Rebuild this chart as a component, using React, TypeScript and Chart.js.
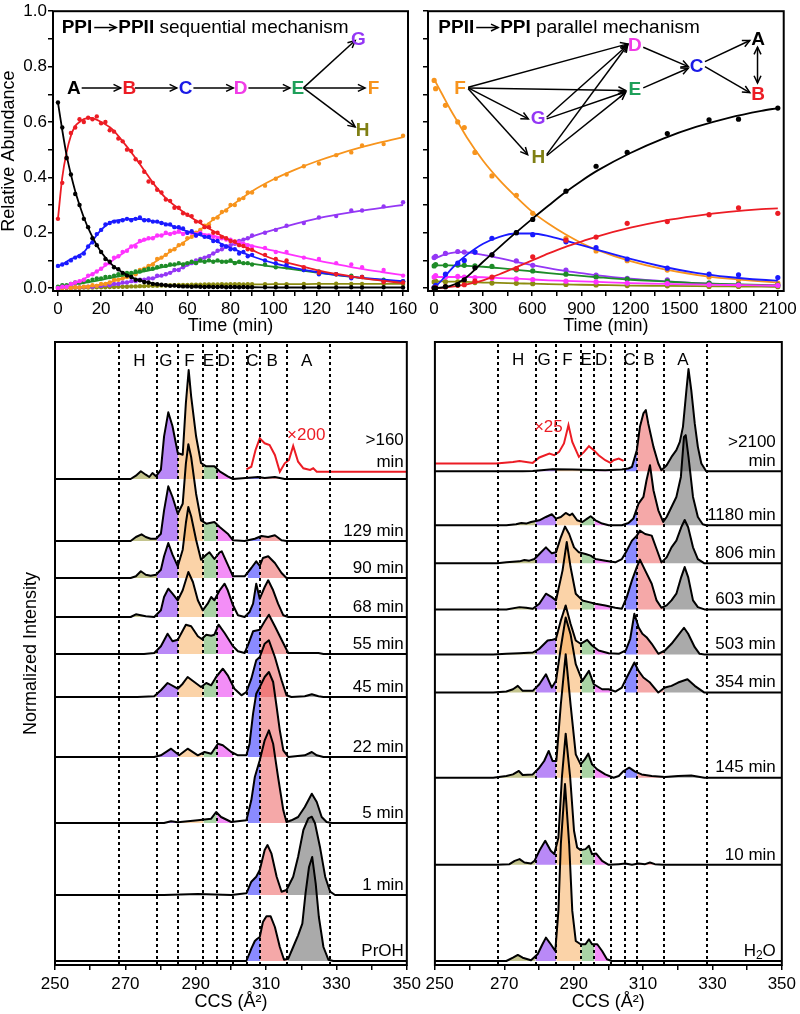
import React, { useEffect, useRef } from "react";
import { Chart, registerables } from "chart.js";

Chart.register(...registerables);

const FONT = "'Liberation Sans', Arial, Helvetica, sans-serif";
Chart.defaults.font.family = FONT;
Chart.defaults.color = "#000";

/* ===================== colours ===================== */
const speciesKeys = ["A", "B", "C", "D", "E", "F", "G", "H"];
const speciesColors = ["#000000", "#ec1c24", "#1a1aff", "#ff33ff", "#1e8c28", "#f7941d", "#9437f5", "#8c8c10"];
const letterColors = ["#000000", "#ec1c24", "#1a1ae6", "#f03ce6", "#1fa05a", "#f7941d", "#9437f5", "#7f7f14"];

/* ===================== top-left: PPI -> PPII (sequential) ===================== */
const abundanceTicks = [0, 0.1, 0.2, 0.3, 0.4, 0.5, 0.6, 0.7, 0.8, 0.9, 1.0];
const seqTimeTicks = [0, 10, 20, 30, 40, 50, 60, 70, 80, 90, 100, 110, 120, 130, 140, 150, 160];
const seqPointTimes = [0, 2, 4, 6, 8, 10, 12, 14, 16, 18, 20, 22, 24, 26, 28, 30, 32, 34, 36, 38, 40, 42, 44, 46, 48, 50, 52, 54, 56, 58, 60, 62, 64, 66, 68, 70, 72, 74, 76, 78, 80, 82, 84, 86, 88, 90, 96, 101, 106, 114, 121, 129, 136, 141, 151, 160];
const seqPtsA = [0.67, 0.58, 0.47, 0.41, 0.34, 0.30, 0.25, 0.22, 0.18, 0.155, 0.13, 0.105, 0.095, 0.075, 0.068, 0.055, 0.045, 0.04, 0.03, 0.028, 0.022, 0.02, 0.015, 0.014, 0.012, 0.01, 0.008, 0.009, 0.007, 0.006, 0.006, 0.005, 0.006, 0.005, 0.004, 0.005, 0.004, 0.004, 0.005, 0.003, 0.004, 0.004, 0.003, 0.004, 0.003, 0.003, 0.003, 0.003, 0.004, 0.003, 0.003, 0.002, 0.003, 0.002, 0.003, 0.002];
const seqPtsB = [0.25, 0.38, 0.47, 0.56, 0.58, 0.61, 0.60, 0.615, 0.61, 0.62, 0.595, 0.60, 0.57, 0.565, 0.54, 0.53, 0.50, 0.495, 0.465, 0.455, 0.42, 0.385, 0.38, 0.355, 0.345, 0.32, 0.315, 0.29, 0.29, 0.27, 0.265, 0.26, 0.24, 0.24, 0.22, 0.22, 0.2, 0.2, 0.185, 0.18, 0.17, 0.168, 0.155, 0.152, 0.14, 0.138, 0.12, 0.105, 0.1, 0.075, 0.055, 0.05, 0.04, 0.04, 0.022, 0.02];
const seqPtsC = [0.08, 0.085, 0.09, 0.1, 0.11, 0.115, 0.125, 0.15, 0.165, 0.195, 0.21, 0.23, 0.235, 0.24, 0.24, 0.245, 0.25, 0.245, 0.25, 0.255, 0.245, 0.245, 0.24, 0.24, 0.235, 0.23, 0.23, 0.22, 0.22, 0.215, 0.2, 0.205, 0.19, 0.195, 0.185, 0.185, 0.17, 0.17, 0.155, 0.15, 0.14, 0.14, 0.125, 0.13, 0.115, 0.12, 0.1, 0.09, 0.085, 0.065, 0.05, 0.05, 0.035, 0.04, 0.025, 0.025];
const seqPtsD = [0.0, 0.005, 0.005, 0.015, 0.02, 0.025, 0.03, 0.045, 0.05, 0.06, 0.07, 0.085, 0.09, 0.11, 0.115, 0.13, 0.135, 0.15, 0.15, 0.17, 0.175, 0.18, 0.18, 0.19, 0.19, 0.2, 0.195, 0.2, 0.205, 0.195, 0.2, 0.2, 0.19, 0.2, 0.19, 0.19, 0.185, 0.18, 0.18, 0.175, 0.175, 0.165, 0.165, 0.16, 0.155, 0.15, 0.145, 0.13, 0.13, 0.11, 0.105, 0.09, 0.085, 0.075, 0.065, 0.045];
const seqPtsE = [0.005, 0.01, 0.01, 0.015, 0.02, 0.02, 0.025, 0.025, 0.03, 0.035, 0.035, 0.04, 0.04, 0.045, 0.05, 0.05, 0.055, 0.055, 0.06, 0.06, 0.065, 0.07, 0.07, 0.075, 0.08, 0.08, 0.085, 0.085, 0.09, 0.085, 0.09, 0.095, 0.09, 0.1, 0.095, 0.1, 0.095, 0.1, 0.095, 0.095, 0.1, 0.09, 0.095, 0.09, 0.09, 0.085, 0.085, 0.075, 0.075, 0.065, 0.06, 0.05, 0.045, 0.04, 0.03, 0.025];
const seqPtsF = [0, 0, 0.002, 0, 0.003, 0.002, 0.005, 0.005, 0.01, 0.008, 0.015, 0.015, 0.02, 0.03, 0.03, 0.035, 0.04, 0.05, 0.05, 0.065, 0.07, 0.08, 0.085, 0.105, 0.11, 0.12, 0.135, 0.14, 0.155, 0.16, 0.18, 0.185, 0.2, 0.21, 0.225, 0.23, 0.25, 0.255, 0.275, 0.28, 0.3, 0.3, 0.32, 0.325, 0.345, 0.345, 0.37, 0.395, 0.41, 0.44, 0.45, 0.48, 0.49, 0.515, 0.52, 0.55];
const seqPtsG = [0, 0, 0.002, 0, 0.003, 0.002, 0.004, 0.005, 0.005, 0.008, 0.008, 0.012, 0.01, 0.015, 0.015, 0.02, 0.02, 0.025, 0.025, 0.03, 0.03, 0.035, 0.035, 0.045, 0.045, 0.05, 0.055, 0.065, 0.065, 0.075, 0.085, 0.09, 0.1, 0.105, 0.11, 0.115, 0.125, 0.135, 0.14, 0.15, 0.155, 0.16, 0.17, 0.175, 0.18, 0.19, 0.2, 0.21, 0.225, 0.235, 0.255, 0.26, 0.28, 0.28, 0.295, 0.31];
const seqPtsH = [0, 0, 0, 0.001, 0.001, 0.001, 0.002, 0.002, 0.002, 0.003, 0.003, 0.003, 0.004, 0.004, 0.005, 0.005, 0.005, 0.006, 0.006, 0.007, 0.007, 0.008, 0.008, 0.008, 0.009, 0.009, 0.01, 0.01, 0.011, 0.011, 0.011, 0.012, 0.012, 0.012, 0.013, 0.013, 0.013, 0.013, 0.014, 0.013, 0.014, 0.014, 0.014, 0.013, 0.014, 0.014, 0.014, 0.015, 0.014, 0.015, 0.015, 0.016, 0.015, 0.015, 0.016, 0.015];

const seqFitTimes = [0, 2, 4, 6, 8, 10, 12, 15, 20, 25, 30, 35, 40, 45, 50, 60, 70, 80, 90, 100, 110, 120, 130, 140, 150, 160];
const seqFitA = [0.67, 0.57, 0.48, 0.41, 0.35, 0.30, 0.255, 0.20, 0.13, 0.085, 0.056, 0.036, 0.023, 0.015, 0.01, 0.006, 0.004, 0.003, 0.003, 0.002, 0.002, 0.002, 0.002, 0.002, 0.002, 0.002];
const seqFitB = [0.25, 0.40, 0.49, 0.55, 0.585, 0.60, 0.61, 0.615, 0.60, 0.575, 0.53, 0.48, 0.425, 0.37, 0.325, 0.265, 0.215, 0.172, 0.137, 0.105, 0.085, 0.065, 0.05, 0.037, 0.027, 0.018];
const seqFitC = [0.08, 0.085, 0.095, 0.105, 0.11, 0.12, 0.13, 0.16, 0.21, 0.24, 0.247, 0.25, 0.248, 0.24, 0.232, 0.205, 0.18, 0.145, 0.115, 0.09, 0.072, 0.058, 0.047, 0.038, 0.031, 0.025];
const seqFitD = [0, 0.003, 0.007, 0.012, 0.018, 0.025, 0.033, 0.046, 0.07, 0.098, 0.125, 0.155, 0.172, 0.185, 0.195, 0.2, 0.192, 0.173, 0.153, 0.135, 0.117, 0.1, 0.085, 0.07, 0.058, 0.047];
const seqFitE = [0.005, 0.008, 0.011, 0.013, 0.015, 0.016, 0.018, 0.022, 0.03, 0.038, 0.045, 0.053, 0.06, 0.069, 0.078, 0.09, 0.097, 0.095, 0.087, 0.077, 0.067, 0.056, 0.046, 0.037, 0.029, 0.021];
const seqFitF = [0, 0, 0.001, 0.001, 0.002, 0.003, 0.004, 0.007, 0.012, 0.023, 0.035, 0.052, 0.07, 0.094, 0.12, 0.175, 0.235, 0.295, 0.35, 0.393, 0.428, 0.458, 0.484, 0.507, 0.527, 0.545];
const seqFitG = [0, 0, 0.001, 0.001, 0.002, 0.002, 0.003, 0.004, 0.008, 0.013, 0.018, 0.024, 0.03, 0.038, 0.05, 0.082, 0.117, 0.155, 0.186, 0.21, 0.232, 0.251, 0.266, 0.279, 0.29, 0.30];
const seqFitH = [0, 0, 0, 0, 0.001, 0.001, 0.001, 0.002, 0.003, 0.004, 0.005, 0.006, 0.007, 0.009, 0.01, 0.011, 0.012, 0.013, 0.013, 0.014, 0.014, 0.015, 0.015, 0.015, 0.015, 0.015];

/* ===================== top-right: PPII -> PPI (parallel) ===================== */
const parTimeTicks = [0, 150, 300, 450, 600, 750, 900, 1050, 1200, 1350, 1500, 1650, 1800, 1950, 2100];
const parPointTimes = [1, 10, 70, 145, 185, 250, 354, 503, 603, 806, 990, 1180, 1425, 1680, 1860, 2100];
const parPtsA = [0, 0, 0.005, 0.012, 0.03, 0.073, 0.12, 0.2, 0.248, 0.35, 0.44, 0.49, 0.558, 0.608, 0.61, 0.65];
const parPtsB = [0, 0.002, 0.005, 0.01, 0.012, 0.025, 0.04, 0.07, 0.113, 0.173, 0.184, 0.234, 0.24, 0.265, 0.29, 0.27];
const parPtsC = [0.003, 0.01, 0.05, 0.09, 0.1, 0.13, 0.18, 0.2, 0.193, 0.167, 0.146, 0.105, 0.072, 0.05, 0.048, 0.038];
const parPtsD = [0.04, 0.045, 0.04, 0.042, 0.04, 0.038, 0.035, 0.033, 0.031, 0.025, 0.022, 0.018, 0.016, 0.012, 0.011, 0.01];
const parPtsE = [0.08, 0.085, 0.082, 0.083, 0.082, 0.08, 0.078, 0.066, 0.062, 0.05, 0.04, 0.032, 0.025, 0.018, 0.014, 0.012];
const parPtsF = [0.75, 0.72, 0.66, 0.6, 0.58, 0.49, 0.405, 0.335, 0.27, 0.18, 0.134, 0.099, 0.065, 0.04, 0.03, 0.018];
const parPtsG = [0.11, 0.115, 0.125, 0.132, 0.13, 0.13, 0.12, 0.098, 0.082, 0.065, 0.047, 0.035, 0.03, 0.018, 0.015, 0.01];
const parPtsH = [0.022, 0.025, 0.023, 0.022, 0.022, 0.02, 0.018, 0.017, 0.016, 0.013, 0.011, 0.009, 0.008, 0.006, 0.006, 0.005];

const parFitTimes = [0, 50, 100, 150, 200, 300, 400, 500, 600, 700, 800, 900, 1000, 1200, 1400, 1600, 1800, 2000, 2100];
const parFitA = [0, 0.002, 0.008, 0.02, 0.04, 0.095, 0.148, 0.2, 0.25, 0.298, 0.345, 0.387, 0.425, 0.488, 0.54, 0.582, 0.615, 0.64, 0.65];
const parFitB = [0, 0.001, 0.004, 0.008, 0.013, 0.028, 0.05, 0.075, 0.1, 0.125, 0.148, 0.168, 0.187, 0.218, 0.243, 0.261, 0.275, 0.285, 0.288];
const parFitC = [0, 0.03, 0.065, 0.095, 0.12, 0.16, 0.185, 0.197, 0.197, 0.188, 0.172, 0.155, 0.138, 0.105, 0.077, 0.055, 0.04, 0.03, 0.027];
const parFitD = [0.04, 0.04, 0.04, 0.04, 0.04, 0.039, 0.036, 0.034, 0.031, 0.028, 0.026, 0.024, 0.022, 0.018, 0.015, 0.013, 0.011, 0.01, 0.009];
const parFitE = [0.082, 0.082, 0.082, 0.081, 0.08, 0.077, 0.072, 0.066, 0.06, 0.054, 0.049, 0.044, 0.039, 0.03, 0.024, 0.018, 0.014, 0.011, 0.01];
const parFitF = [0.755, 0.7, 0.645, 0.595, 0.545, 0.46, 0.39, 0.33, 0.275, 0.232, 0.195, 0.163, 0.137, 0.097, 0.068, 0.048, 0.034, 0.024, 0.02];
const parFitG = [0.105, 0.118, 0.126, 0.13, 0.129, 0.12, 0.108, 0.095, 0.083, 0.072, 0.062, 0.054, 0.046, 0.034, 0.025, 0.018, 0.013, 0.01, 0.009];
const parFitH = [0.024, 0.024, 0.023, 0.023, 0.022, 0.02, 0.019, 0.017, 0.016, 0.014, 0.013, 0.012, 0.011, 0.009, 0.008, 0.007, 0.006, 0.005, 0.004];

/* ===================== mechanism diagrams (data coordinates) ===================== */
const seqNodes = [
  { k: "A", t: 7.4, v: 0.723 }, { k: "B", t: 33.1, v: 0.723 }, { k: "C", t: 59.2, v: 0.723 },
  { k: "D", t: 84.7, v: 0.723 }, { k: "E", t: 111.2, v: 0.723 }, { k: "F", t: 146.3, v: 0.723 },
  { k: "G", t: 139.3, v: 0.9 }, { k: "H", t: 141.3, v: 0.57 },
];
const seqArrows = [
  [11, 0.723, 29.1, 0.723], [35.7, 0.723, 55.1, 0.723], [62.8, 0.723, 81.3, 0.723],
  [88.3, 0.723, 107.6, 0.723], [114.1, 0.723, 142.4, 0.723], [113.8, 0.723, 137.8, 0.894], [113.8, 0.723, 137.8, 0.582],
];
const parNodes = [
  { k: "F", t: 158.7, v: 0.723 }, { k: "G", t: 636.8, v: 0.615 }, { k: "H", t: 636.8, v: 0.473 },
  { k: "D", t: 1227, v: 0.879 }, { k: "E", t: 1227, v: 0.721 }, { k: "C", t: 1604, v: 0.802 },
  { k: "A", t: 1980, v: 0.9 }, { k: "B", t: 1980, v: 0.702 },
];
const parArrows = [
  [209, 0.725, 1183, 0.882], [209, 0.723, 1170, 0.714], [209, 0.723, 576, 0.611], [209, 0.72, 572, 0.482],
  [688, 0.617, 1183, 0.878], [688, 0.611, 1170, 0.709], [688, 0.482, 1183, 0.878], [688, 0.478, 1170, 0.706],
  [1278, 0.87, 1553, 0.8], [1278, 0.723, 1553, 0.794], [1655, 0.818, 1929, 0.894], [1655, 0.8, 1929, 0.706],
];
const parDoubleArrows = [[1976, 0.87, 1976, 0.741]];

/* ===================== ridge plots (CCS, Å^2) ===================== */
const ccsTicks = [250, 260, 270, 280, 290, 300, 310, 320, 330, 340, 350];
const ccsEdges = [268.1, 279.0, 285.0, 292.2, 296.0, 300.7, 304.7, 308.3, 316.0, 328.3];
const regionLetters = ["H", "G", "F", "E", "D", "C", "B", "A"];
const regionLetterCcs = [274, 281.5, 288.2, 293.6, 297.9, 306.1, 311.7, 321.5];
const regionSpans = [[0, 1], [1, 2], [2, 3], [3, 4], [4, 5], [6, 7], [7, 8], [8, 9]];
const regionFills = [
  "rgba(137,137,29,0.5)", "rgba(115,20,239,0.5)", "rgba(247,167,81,0.5)", "rgba(83,167,73,0.5)",
  "rgba(231,29,239,0.5)", "rgba(21,21,255,0.5)", "rgba(235,81,81,0.5)", "rgba(85,85,85,0.5)",
];

// left: PPI (propanol) -> PPII, heights of each trace
const L160 = [[271.5, 0], [273.0, 3.3], [274.4, 7.7], [275.8, 4.3], [276.8, 2], [277.7, 6], [278.7, 2.7], [280.1, 9.3], [281.0, 42.7], [282.2, 66.7], [283.4, 52.7], [284.9, 26], [286.3, 24.3], [287.2, 76], [288.0, 109], [288.7, 82.7], [290.1, 42.7], [291.5, 16], [293.0, 12.7], [295.3, 12.7], [296.8, 7.7], [299.1, 2.7], [300.6, 0], [307.7, 2], [309.6, 1], [312.5, 2], [315.3, 0]];
const L129 = [[271.5, 0], [273.0, 4], [274.6, 6.7], [275.8, 4], [277.2, 2.3], [278.7, 2.3], [280.1, 7.3], [281.0, 30.7], [282.2, 54.7], [283.4, 44], [284.9, 27.3], [286.3, 37.3], [287.2, 77.3], [287.9, 96.7], [288.7, 84], [290.1, 47.3], [291.5, 20.7], [293.0, 17.3], [295.3, 19], [296.8, 14], [299.1, 7.3], [300.6, 0.7], [303.9, 0], [306.8, 2.3], [308.7, 5], [310.6, 4], [312.5, 5.7], [314.4, 0.7], [315.8, 0]];
const L90 = [[271.5, 0], [273.0, 1.7], [274.4, 6.7], [275.8, 3.3], [277.2, 2.3], [278.7, 3.3], [280.1, 8.3], [281.0, 21.7], [282.2, 35], [283.4, 23.3], [284.9, 11.7], [286.3, 28.3], [287.2, 55], [287.9, 71], [288.7, 61.7], [290.1, 38.3], [291.5, 18.3], [293.0, 23.3], [293.9, 25.7], [295.3, 19], [296.8, 25.7], [297.4, 26.7], [299.1, 13.3], [300.6, 1.7], [303.9, 1.7], [305.8, 10], [307.2, 16.7], [308.2, 12], [309.1, 20], [310.6, 21.7], [312.5, 15], [314.4, 5], [315.8, 0]];
const L68 = [[271.5, 0], [273.0, 2.7], [274.4, 1.7], [275.8, 0.7], [278.2, 0], [280.1, 6.7], [281.0, 20], [282.2, 28.3], [283.4, 23.3], [284.9, 16.7], [286.3, 26.7], [287.9, 45], [289.2, 35], [290.6, 16.7], [292.0, 6.7], [293.4, 13.3], [294.4, 20], [295.3, 16.7], [296.8, 26.7], [298.2, 33.3], [299.1, 26.7], [300.6, 11.7], [302.0, 1.7], [303.9, 0], [305.3, 5], [306.3, 13.3], [307.2, 33.3], [308.2, 18.3], [309.6, 30], [310.6, 36.7], [312.0, 26.7], [313.4, 13.3], [314.9, 1.7], [316.3, 0]];
const L55 = [[275.3, 0], [278.2, 1], [280.1, 7.7], [282.0, 20.3], [283.4, 12.7], [284.9, 14.3], [287.2, 29.3], [288.7, 27.7], [290.6, 17.7], [291.7, 15], [293.0, 19.3], [294.4, 18.3], [295.3, 19.3], [296.5, 29.3], [298.2, 21], [300.6, 7.7], [302.0, 2.7], [303.9, 1], [304.9, 9.3], [306.3, 22.7], [308.2, 24.3], [309.6, 32.7], [310.8, 39.3], [312.5, 27.7], [314.4, 14.3], [316.3, 1], [324.9, 1], [326.3, 0]];
const L45 = [[273.4, 0], [278.2, 0.7], [280.1, 6.7], [282.0, 14], [284.9, 8.3], [286.3, 13.3], [287.7, 20], [289.6, 15], [291.5, 10], [293.0, 14], [294.4, 11.7], [295.8, 20], [297.7, 28.3], [299.1, 21.7], [301.0, 8.3], [303.0, 1.7], [304.4, 5], [305.8, 18.3], [307.2, 36.7], [308.2, 40], [309.6, 53.3], [310.8, 56.7], [312.5, 40], [314.4, 16.7], [315.8, 1.7], [317.2, 0], [321.0, 0.7], [323.0, 2.7], [324.9, 0.7], [326.3, 0]];
const L22 = [[278.2, 0], [280.1, 1.7], [283.0, 8.3], [285.3, 1.7], [287.7, 8.3], [290.6, 1.7], [292.5, 5], [294.4, 3.3], [296.3, 13.3], [297.7, 11.7], [300.1, 5], [302.0, 1.7], [304.4, 1.7], [305.3, 13.3], [306.3, 43.3], [307.2, 63.3], [308.2, 70], [309.6, 80], [310.8, 85], [312.0, 75], [313.0, 50], [313.9, 26.7], [314.9, 6.7], [316.3, 0], [321.0, 1.7], [323.0, 5], [324.4, 1.7], [326.3, 0]];
const L5 = [[281.0, 0], [283.0, 1.7], [284.9, 0.7], [290.6, 2.7], [294.4, 4.3], [295.8, 11], [297.2, 6], [300.1, 1], [304.4, 2.7], [305.8, 22.7], [306.8, 46], [308.2, 62.7], [309.6, 82.7], [310.8, 92.7], [312.0, 79.3], [313.4, 46], [314.9, 12.7], [315.8, 1], [317.2, 2.7], [319.1, 6], [321.0, 16], [323.0, 29.3], [324.4, 21], [325.8, 6], [327.2, 1], [328.7, 0]];
const L1 = [[281.0, 0], [290.6, 1], [300.1, 0], [304.4, 1.7], [305.8, 13.3], [307.2, 18.3], [308.2, 25], [309.6, 45], [310.4, 50], [311.5, 41.7], [313.0, 18.3], [314.4, 3.3], [315.8, 5], [317.7, 18.3], [319.1, 38.3], [320.6, 65], [322.0, 76.7], [323.0, 78.3], [323.9, 71.7], [325.3, 48.3], [326.8, 18.3], [328.2, 3.3], [329.6, 0]];
const LPrOH = [[304.4, 0], [305.8, 12.3], [306.8, 20], [307.5, 22.3], [308.2, 24], [309.1, 39], [310.1, 44.7], [311.3, 44.7], [312.5, 34], [313.9, 14], [315.1, 1.3], [316.3, 2.3], [317.7, 14], [319.1, 25.7], [320.3, 37.3], [321.2, 67.3], [322.2, 94], [323.1, 104], [324.1, 77.3], [325.0, 44], [326.3, 14], [327.7, 1.3], [329.1, 0]];
const LZoom200 = [[304.4, 9.7], [305.8, 12.3], [307.0, 29], [308.2, 40.7], [309.6, 35.7], [311.0, 34], [312.5, 24], [313.9, 7.3], [315.3, 15.7], [316.5, 19], [317.7, 33], [319.1, 17.3], [320.6, 10.7], [322.5, 9], [323.4, 10.7], [324.4, 7.3], [350, 7.3]];
const leftTraces = [L160, L129, L90, L68, L55, L45, L22, L5, L1, LPrOH];
const leftOffsets = [482, 420, 383, 344, 307, 264, 204, 138, 66, 0];
const leftLabels = [[">160", "min"], ["129 min"], ["90 min"], ["68 min"], ["55 min"], ["45 min"], ["22 min"], ["5 min"], ["1 min"], ["PrOH"]];

// right: PPII (water) -> PPI
const R2100 = [[275.3, 0], [278.2, 0.3], [283.9, 2], [289.6, 1.7], [299.1, 1], [303.9, 1.7], [305.8, 2.7], [306.8, 4.3], [308.2, 21], [309.1, 44.3], [310.1, 57.7], [310.8, 61], [311.5, 47.7], [313.0, 24.3], [314.4, 7.7], [315.3, 1], [316.8, 6], [318.2, 14.3], [319.6, 21], [320.6, 29.3], [321.5, 44.3], [322.5, 81], [323.1, 102], [323.9, 81], [324.9, 47.7], [325.8, 24.3], [326.8, 7.7], [328.2, 0]];
const R1180 = [[270.6, 0], [273.4, 1], [274.9, 2.3], [276.3, 1.7], [277.7, 3.3], [280.1, 5], [282.0, 8.3], [283.7, 11], [284.9, 6.7], [286.3, 8.3], [287.7, 12.3], [288.9, 10], [289.6, 11.7], [291.0, 5], [292.5, 3.3], [293.9, 6.7], [294.9, 9], [296.3, 5], [298.2, 1.7], [300.1, 0], [303.9, 0], [305.8, 2.3], [307.2, 6.7], [308.7, 21.7], [310.1, 28.3], [311.0, 45], [312.0, 60], [313.0, 35], [314.4, 15], [315.8, 3.3], [316.8, 8.3], [318.2, 18.3], [319.6, 28.3], [320.9, 48.3], [321.8, 88.3], [322.3, 90], [323.1, 68.3], [324.4, 28.3], [325.8, 8.3], [327.2, 1], [328.2, 0]];
const R806 = [[268.0, 0], [270.6, 1], [274.4, 2], [275.8, 3.3], [277.2, 2.7], [278.7, 4.3], [280.1, 9.3], [282.0, 16], [283.7, 10], [284.9, 11], [286.3, 26], [287.5, 36.7], [288.7, 29.3], [290.1, 16], [291.5, 11], [293.4, 9.3], [294.9, 7.7], [296.3, 4.3], [299.1, 2.7], [302.0, 1], [303.9, 4.3], [305.3, 12.7], [306.8, 22.7], [308.2, 27.7], [309.1, 32.7], [310.6, 29.3], [312.5, 27.7], [313.9, 14.3], [315.3, 1], [316.8, 6], [318.2, 16], [319.6, 22.7], [321.0, 36], [322.0, 43.3], [323.0, 36], [324.4, 16], [325.8, 4.3], [327.7, 0]];
const R603 = [[270.6, 0], [274.4, 2.3], [276.3, 1.7], [278.2, 0.7], [280.1, 5.7], [282.0, 15.7], [283.7, 12.3], [284.9, 9], [286.8, 39], [288.0, 67.3], [289.1, 42.3], [290.6, 15.7], [292.5, 9], [294.4, 7.3], [296.3, 5.7], [299.1, 4], [302.0, 1.7], [303.9, 0.7], [305.3, 12.3], [306.8, 29], [308.2, 42.3], [309.1, 49.7], [310.6, 39], [312.5, 25.7], [313.9, 9], [315.3, 1.7], [316.8, 4], [318.2, 9], [319.6, 15.7], [321.0, 32.3], [322.0, 42.3], [323.0, 32.3], [324.4, 9], [325.8, 2.3], [327.7, 0]];
const R503 = [[266.8, 0], [270.6, 0.7], [274.4, 1.3], [278.2, 2], [280.1, 5.7], [282.5, 14], [283.9, 14.7], [284.9, 15.7], [286.3, 34], [287.7, 49], [289.1, 30.7], [290.6, 14], [292.0, 10.7], [293.9, 14.7], [295.3, 9], [297.2, 4], [300.1, 1.3], [303.0, 0.7], [305.0, 4], [306.3, 15.7], [307.5, 40.7], [308.7, 27.3], [309.8, 20.7], [311.0, 17.3], [312.5, 10.7], [314.4, 0.7], [316.3, 4], [318.2, 10.7], [320.1, 19], [321.8, 26.7], [323.0, 20.7], [324.9, 7.3], [326.3, 0.7], [327.7, 0]];
const R354 = [[266.8, 0], [270.6, 1], [272.5, 3.3], [273.9, 6.7], [275.3, 1.7], [278.2, 1.7], [280.1, 8.3], [282.0, 18.3], [283.7, 5], [284.9, 11.7], [286.3, 45], [287.7, 75], [289.1, 58.3], [290.6, 28.3], [292.5, 11.7], [294.4, 21.7], [295.8, 8.3], [298.2, 3.3], [300.1, 3.3], [302.0, 1], [303.9, 5], [305.3, 15], [307.5, 30], [308.7, 21.7], [310.1, 15], [312.0, 10], [314.4, 0], [316.3, 5], [318.2, 6.7], [320.1, 10], [322.8, 13.3], [324.9, 6.7], [327.7, 0]];
const R145 = [[266.8, 0], [270.6, 1.7], [272.5, 3.3], [274.2, 6.7], [275.3, 2.7], [278.2, 3.3], [280.1, 10], [281.5, 16.7], [282.8, 26.7], [283.9, 16.7], [285.0, 16.7], [286.3, 73.3], [287.7, 123.3], [289.1, 73.3], [290.6, 23.3], [292.0, 13.3], [293.2, 18.3], [294.2, 24], [295.3, 13.3], [296.8, 8.3], [299.1, 3.3], [301.5, 0], [303.0, 1.7], [304.4, 6.7], [306.0, 10], [307.7, 6], [309.6, 3.3], [312.5, 1.7], [316.3, 0.7], [320.1, 1.7], [323.9, 2.3], [327.7, 0]];
const R10 = [[267.7, 0], [271.5, 0.7], [273.0, 4], [274.4, 5.7], [275.8, 2.3], [277.7, 1.3], [278.7, 4], [280.1, 14], [281.8, 24], [283.4, 14], [284.4, 10.7], [285.6, 27], [286.6, 87], [287.7, 131], [289.0, 87], [290.1, 34], [291.0, 17.3], [292.0, 14.7], [293.4, 15.7], [294.4, 19], [295.3, 10.7], [296.5, 11.3], [298.2, 4], [300.1, 0], [303.0, 0.7], [304.9, 1.3], [306.8, 0], [308.7, 1.3], [310.6, 0.7], [312.0, 2.3], [313.4, 0.7], [315.8, 0]];
const RH2O = [[270.6, 0], [272.5, 3.3], [273.9, 6], [275.3, 3.3], [277.7, 0.7], [279.6, 6.7], [281.0, 16.7], [282.0, 23.3], [283.4, 16.7], [284.7, 10], [285.6, 50], [286.3, 116.7], [287.5, 176.7], [288.7, 116.7], [289.6, 50], [290.6, 20], [292.0, 16.7], [293.4, 16.7], [294.4, 21.7], [295.3, 16.7], [296.8, 16.7], [298.2, 10], [299.6, 1.7], [301.0, 0]];
const RZoom25 = [[250, 7.7], [267.7, 7.7], [272.5, 9.3], [274.4, 10.3], [278.2, 8.3], [280.1, 13.7], [283.0, 17.7], [284.4, 16], [285.8, 19.3], [287.2, 27.7], [288.5, 46], [289.6, 29.3], [291.5, 14.3], [293.0, 19.3], [294.4, 25], [295.8, 21], [297.2, 16], [299.1, 11], [300.6, 8.3], [301.5, 11], [303.0, 12.7], [304.4, 10.3]];
const rightTraces = [R2100, R1180, R806, R603, R503, R354, R145, R10, RH2O];
const rightOffsets = [489, 435, 397, 351, 306, 268, 183, 96, 0];
const rightLabels = [[">2100", "min"], ["1180 min"], ["806 min"], ["603 min"], ["503 min"], ["354 min"], ["145 min"], ["10 min"], ["H2O"]];

/* ===================== helpers ===================== */
const framePlugin = {
  id: "frame",
  afterDraw(chart: any) {
    const { ctx, chartArea: a } = chart;
    ctx.save();
    ctx.strokeStyle = "#000";
    ctx.lineWidth = 2;
    ctx.strokeRect(a.left, a.top, a.right - a.left, a.bottom - a.top);
    ctx.restore();
  },
};

function drawArrowHead(ctx: any, x1: number, y1: number, x2: number, y2: number, size = 8) {
  const a = Math.atan2(y2 - y1, x2 - x1);
  ctx.beginPath();
  ctx.moveTo(x2 - size * Math.cos(a - 0.45), y2 - size * Math.sin(a - 0.45));
  ctx.lineTo(x2, y2);
  ctx.lineTo(x2 - size * Math.cos(a + 0.45), y2 - size * Math.sin(a + 0.45));
  ctx.stroke();
}
function drawArrow(ctx: any, x1: number, y1: number, x2: number, y2: number, both = false) {
  ctx.beginPath();
  ctx.moveTo(x1, y1);
  ctx.lineTo(x2, y2);
  ctx.stroke();
  drawArrowHead(ctx, x1, y1, x2, y2);
  if (both) drawArrowHead(ctx, x2, y2, x1, y1);
}

function diagramPlugin(d: any) {
  return {
    id: "diagram",
    afterDatasetsDraw(chart: any) {
      const ctx = chart.ctx;
      const xs = chart.scales.x;
      const ys = chart.scales.y;
      const px = (t: number) => xs.getPixelForValue(t);
      const py = (v: number) => ys.getPixelForValue(v);
      ctx.save();
      ctx.fillStyle = "#000";
      ctx.strokeStyle = "#000";
      ctx.lineWidth = 1.5;
      ctx.textBaseline = "middle";
      ctx.textAlign = "left";
      let cx = px(d.titleT);
      const ty = py(d.titleV);
      for (const s of d.title) {
        if (s.arrow) {
          drawArrow(ctx, cx + 2, ty, cx + 24, ty);
          cx += 26;
          continue;
        }
        ctx.font = `${s.bold ? "bold " : ""}19px ${FONT}`;
        ctx.fillText(s.text, cx, ty);
        cx += ctx.measureText(s.text).width;
      }
      for (const a of d.arrows) drawArrow(ctx, px(a[0]), py(a[1]), px(a[2]), py(a[3]));
      for (const a of d.doubleArrows || []) drawArrow(ctx, px(a[0]), py(a[1]), px(a[2]), py(a[3]), true);
      ctx.textAlign = "center";
      ctx.font = `bold 19px ${FONT}`;
      for (const n of d.nodes) {
        ctx.fillStyle = letterColors[speciesKeys.indexOf(n.k)];
        ctx.fillText(n.k, px(n.t), py(n.v) + 1);
      }
      ctx.restore();
    },
  };
}

function kineticsConfig(p: any) {
  const datasets: any[] = [];
  p.series.forEach((s: any, i: number) => {
    const color = speciesColors[i];
    datasets.push({
      data: p.fitTimes.map((t: number, j: number) => ({ x: t, y: s.fit[j] })),
      borderColor: color, borderWidth: 1.8, pointRadius: 0, fill: false,
      cubicInterpolationMode: "monotone",
    });
    datasets.push({
      data: p.pointTimes.map((t: number, j: number) => ({ x: t, y: s.pts[j] })).filter((q: any) => q.y !== undefined),
      showLine: false, borderColor: color, backgroundColor: color,
      pointRadius: p.pointRadius, pointBorderWidth: 0, pointBackgroundColor: color,
    });
  });
  return {
    type: "line",
    data: { datasets },
    options: {
      animation: false, responsive: false, devicePixelRatio: 1, events: [],
      layout: { padding: { left: 0, top: 5, right: p.padRight, bottom: 0 } },
      plugins: { legend: { display: false }, tooltip: { enabled: false } },
      scales: {
        x: {
          type: "linear", min: p.xMin, max: p.xMax,
          afterBuildTicks: (s: any) => { s.ticks = p.xTicks.map((v: number) => ({ value: v })); },
          afterFit: (s: any) => { s.height = 47; },
          ticks: {
            autoSkip: false, maxRotation: 0, padding: 3, color: "#000",
            font: { family: FONT, size: 17 },
            callback: (v: number, i: number) => (i % 2 === 0 ? String(v) : ""),
          },
          grid: { drawOnChartArea: false, drawTicks: true, tickLength: 5, color: "#000", lineWidth: 1.5 },
          border: { display: false },
          title: { display: true, text: "Time (min)", color: "#000", font: { family: FONT, size: 18, lineHeight: 1.2 }, padding: { top: 0, bottom: 1 } },
        },
        y: {
          type: "linear", min: -0.0106, max: 1.0,
          afterBuildTicks: (s: any) => { s.ticks = abundanceTicks.map((v) => ({ value: v })); },
          afterFit: (s: any) => { s.width = p.yWidth; },
          ticks: {
            autoSkip: false, padding: 1, color: "#000",
            font: { family: FONT, size: 17 },
            callback: (v: number, i: number) => (p.yLabels && i % 2 === 0 ? v.toFixed(1) : ""),
          },
          grid: { drawOnChartArea: false, drawTicks: true, tickLength: 5, color: "#000", lineWidth: 1.5 },
          border: { display: false },
          title: {
            display: !!p.yTitle, text: p.yTitle || "", color: "#000",
            font: { family: FONT, size: 18, lineHeight: 1 }, padding: { top: 0, bottom: 0 },
          },
        },
      },
    },
    plugins: [framePlugin, diagramPlugin(p.diagram)],
  };
}

function hAt(pts: number[][], x: number) {
  if (x <= pts[0][0] || x >= pts[pts.length - 1][0]) return 0;
  for (let i = 1; i < pts.length; i++) {
    if (pts[i][0] >= x) {
      const [x0, y0] = pts[i - 1];
      const [x1, y1] = pts[i];
      return y0 + ((y1 - y0) * (x - x0)) / (x1 - x0);
    }
  }
  return 0;
}

function ridgeDatasets(traces: number[][][], offsets: number[], zoomPts: number[][]) {
  const ds: any[] = [];
  ds.push({
    data: zoomPts.map(([x, h]) => ({ x, y: offsets[0] + h })),
    borderColor: "#ec1c24", borderWidth: 2, pointRadius: 0, fill: false, tension: 0,
  });
  for (let k = traces.length - 1; k >= 0; k--) {
    const pts = traces[k];
    const o = offsets[k];
    const line = pts.map(([x, h]) => ({ x, y: o + h }));
    if (pts[0][0] > 250) line.unshift({ x: 250, y: o });
    if (pts[pts.length - 1][0] < 350) line.push({ x: 350, y: o });
    ds.push({
      data: line, borderColor: "#000", borderWidth: 2, pointRadius: 0, fill: false, tension: 0,
      borderJoinStyle: "round",
    });
    regionSpans.forEach(([i0, i1], r) => {
      const a = ccsEdges[i0];
      const b = ccsEdges[i1];
      const seg = [
        { x: a, y: o + hAt(pts, a) },
        ...pts.filter(([x]) => x > a && x < b).map(([x, h]) => ({ x, y: o + h })),
        { x: b, y: o + hAt(pts, b) },
      ];
      ds.push({
        data: seg, borderWidth: 0, borderColor: "rgba(0,0,0,0)", backgroundColor: regionFills[r],
        pointRadius: 0, fill: { value: o }, tension: 0,
      });
    });
  }
  return ds;
}

function ridgePlugin(p: any) {
  return {
    id: "ridgeDecor",
    afterDatasetsDraw(chart: any) {
      const { ctx, chartArea: ca } = chart;
      const xs = chart.scales.x;
      const ys = chart.scales.y;
      ctx.save();
      ctx.strokeStyle = "#000";
      ctx.lineWidth = 2;
      ctx.setLineDash([3, 3]);
      ccsEdges.forEach((c) => {
        const x = Math.round(xs.getPixelForValue(c));
        ctx.beginPath();
        ctx.moveTo(x, ca.top + 2);
        ctx.lineTo(x, ca.bottom);
        ctx.stroke();
      });
      ctx.setLineDash([]);
      ctx.fillStyle = "#000";
      ctx.font = `17px ${FONT}`;
      ctx.textAlign = "center";
      ctx.textBaseline = "middle";
      regionLetters.forEach((k, i) => ctx.fillText(k, xs.getPixelForValue(regionLetterCcs[i]), ys.getPixelForValue(p.letterLevel)));
      const xr = ca.right - p.labelInset;
      p.labels.forEach((lines: string[], k: number) => {
        const yb = ys.getPixelForValue(p.offsets[k]);
        if (lines.length === 2) {
          ctx.textAlign = "right";
          ctx.fillText(lines[0], xr, yb + p.twoLine[0]);
          ctx.fillText(lines[1], xr, yb + p.twoLine[1]);
        } else if (lines[0] === "H2O") {
          ctx.textAlign = "left";
          const wO = ctx.measureText("O").width;
          const wH = ctx.measureText("H").width;
          ctx.font = `12px ${FONT}`;
          const w2 = ctx.measureText("2").width;
          ctx.fillText("2", xr - wO - w2, yb - 5);
          ctx.font = `17px ${FONT}`;
          ctx.fillText("O", xr - wO, yb - 10);
          ctx.fillText("H", xr - wO - w2 - wH, yb - 10);
        } else {
          ctx.textAlign = "right";
          ctx.fillText(lines[0], xr, yb - 10);
        }
      });
      ctx.fillStyle = "#ec1c24";
      ctx.textAlign = "center";
      ctx.fillText(p.zoomText, xs.getPixelForValue(p.zoomCcs), ys.getPixelForValue(p.offsets[0] + p.zoomRise));
      ctx.restore();
    },
  };
}

function ridgeConfig(p: any) {
  return {
    type: "line",
    data: { datasets: ridgeDatasets(p.traces, p.offsets, p.zoom) },
    options: {
      animation: false, responsive: false, devicePixelRatio: 1, events: [],
      layout: { padding: { left: 0, top: 4, right: p.padRight, bottom: 0 } },
      plugins: { legend: { display: false }, tooltip: { enabled: false } },
      scales: {
        x: {
          type: "linear", min: 250, max: 350,
          afterBuildTicks: (s: any) => { s.ticks = ccsTicks.map((v) => ({ value: v })); },
          afterFit: (s: any) => { s.height = 49; },
          ticks: {
            autoSkip: false, maxRotation: 0, padding: 4, color: "#000",
            font: { family: FONT, size: 17 },
            callback: (v: number, i: number) => (i % 2 === 0 ? (i === 0 && p.padFirst ? "  " + v : String(v)) : ""),
          },
          grid: { drawOnChartArea: false, drawTicks: true, tickLength: 5, color: "#000", lineWidth: 1.5 },
          border: { display: false },
          title: { display: true, text: "CCS (Å²)", color: "#000", font: { family: FONT, size: 18, lineHeight: 1.2 }, padding: { top: 0, bottom: 1 } },
        },
        y: {
          type: "linear", min: p.yMin, max: p.yMax,
          afterFit: (s: any) => { s.width = p.yWidth; },
          ticks: { display: false },
          grid: { display: false },
          border: { display: false },
          title: {
            display: !!p.yTitle, text: p.yTitle || "", color: "#000",
            font: { family: FONT, size: 18, lineHeight: 1 }, padding: { top: 22, bottom: 0 },
          },
        },
      },
    },
    plugins: [framePlugin, ridgePlugin(p)],
  };
}

/* ===================== configs ===================== */
const seqSeries = [
  { pts: seqPtsA, fit: seqFitA }, { pts: seqPtsB, fit: seqFitB }, { pts: seqPtsC, fit: seqFitC }, { pts: seqPtsD, fit: seqFitD },
  { pts: seqPtsE, fit: seqFitE }, { pts: seqPtsF, fit: seqFitF }, { pts: seqPtsG, fit: seqFitG }, { pts: seqPtsH, fit: seqFitH },
];
const parSeries = [
  { pts: parPtsA, fit: parFitA }, { pts: parPtsB, fit: parFitB }, { pts: parPtsC, fit: parFitC }, { pts: parPtsD, fit: parFitD },
  { pts: parPtsE, fit: parFitE }, { pts: parPtsF, fit: parFitF }, { pts: parPtsG, fit: parFitG }, { pts: parPtsH, fit: parFitH },
];

const buildSeq = () =>
  kineticsConfig({
    series: seqSeries, pointTimes: seqPointTimes, fitTimes: seqFitTimes, pointRadius: 2.2,
    xMin: -2.3, xMax: 162.3, xTicks: seqTimeTicks, padRight: 17, yWidth: 53, yLabels: true,
    yTitle: "Relative Abundance",
    diagram: {
      titleT: 1.7, titleV: 0.941,
      title: [{ text: "PPI", bold: true }, { arrow: true }, { text: "PPII", bold: true }, { text: " sequential mechanism" }],
      nodes: seqNodes, arrows: seqArrows,
    },
  });

const buildPar = () =>
  kineticsConfig({
    series: parSeries, pointTimes: parPointTimes, fitTimes: parFitTimes, pointRadius: 2.6,
    xMin: -36.6, xMax: 2136, xTicks: parTimeTicks, padRight: 16, yWidth: 16, yLabels: false,
    yTitle: "",
    diagram: {
      titleT: 26.3, titleV: 0.941,
      title: [{ text: "PPII", bold: true }, { arrow: true }, { text: "PPI", bold: true }, { text: " parallel mechanism" }],
      nodes: parNodes, arrows: parArrows, doubleArrows: parDoubleArrows,
    },
  });

const buildRidgeLeft = () =>
  ridgeConfig({
    traces: leftTraces, offsets: leftOffsets, zoom: LZoom200, labels: leftLabels,
    yMin: -4, yMax: 619, yWidth: 55, padRight: 17, yTitle: "Normalized Intensity",
    letterLevel: 600, labelInset: 3, twoLine: [-39, -17],
    zoomText: "×200", zoomCcs: 321.4, zoomRise: 44, padFirst: false,
  });

const buildRidgeRight = () =>
  ridgeConfig({
    traces: rightTraces, offsets: rightOffsets, zoom: RZoom25, labels: rightLabels,
    yMin: -4, yMax: 618, yWidth: 18, padRight: 15, yTitle: "",
    letterLevel: 600, labelInset: 6, twoLine: [-29, -10],
    zoomText: "×25", zoomCcs: 282.7, zoomRise: 44, padFirst: true,
  });

/* ===================== components ===================== */
function ChartBox({ left, top, width, height, build }: any) {
  const ref = useRef<HTMLCanvasElement>(null);
  useEffect(() => {
    const chart = new Chart(ref.current as HTMLCanvasElement, build() as any);
    return () => chart.destroy();
  }, []);
  return (
    <canvas
      ref={ref}
      width={width}
      height={height}
      style={{ position: "absolute", left, top, width, height }}
    />
  );
}

export default function App() {
  return (
    <div style={{ position: "absolute", left: 0, top: 0, width: 800, height: 1014, background: "#fff", overflow: "hidden" }}>
      <ChartBox left={0} top={0} width={425} height={338} build={buildSeq} />
      <ChartBox left={412} top={0} width={388} height={338} build={buildPar} />
      <ChartBox left={0} top={338} width={425} height={676} build={buildRidgeLeft} />
      <ChartBox left={412} top={338} width={388} height={676} build={buildRidgeRight} />
    </div>
  );
}
